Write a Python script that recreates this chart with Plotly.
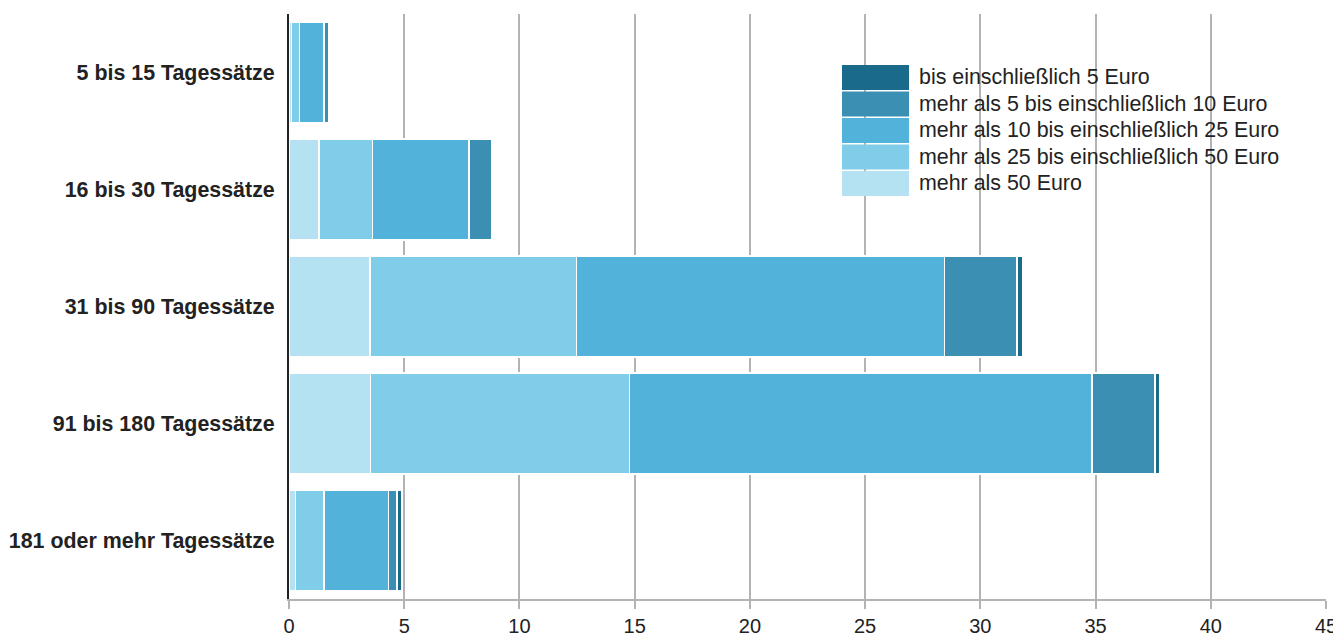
import plotly.graph_objects as go

categories = ["5 bis 15 Tagessätze", "16 bis 30 Tagessätze", "31 bis 90 Tagessätze",
              "91 bis 180 Tagessätze", "181 oder mehr Tagessätze"]

series_names = ["mehr als 50 Euro",
                "mehr als 25 bis einschließlich 50 Euro",
                "mehr als 10 bis einschließlich 25 Euro",
                "mehr als 5 bis einschließlich 10 Euro",
                "bis einschließlich 5 Euro"]

v_over50 = [0.10, 1.30, 3.51, 3.53, 0.28]
v_25_50 = [0.36, 2.32, 8.96, 11.25, 1.24]
v_10_25 = [1.05, 4.19, 15.98, 20.06, 2.80]
v_5_10 = [0.22, 0.99, 3.15, 2.73, 0.36]
v_upto5 = [0.00, 0.00, 0.23, 0.23, 0.23]

series_values = [v_over50, v_25_50, v_10_25, v_5_10, v_upto5]
colors = ["#b4e2f2", "#7fcde8", "#52b2da", "#3b8fb3", "#1a6a8c"]

x_ticks = [0, 5, 10, 15, 20, 25, 30, 35, 40, 45]

FONT = "Liberation Sans, Arial, Helvetica, sans-serif"

fig = go.Figure()
for name, vals, col in zip(series_names, series_values, colors):
    fig.add_trace(go.Bar(
        y=categories, x=vals, name=name, orientation="h",
        marker=dict(color=col, line=dict(color="white", width=1.5)),
        showlegend=False,
    ))

# Manual legend (large swatches), top entry = darkest
leg_order = list(range(len(series_names)))[::-1]
L, T, BOT = 1037.0, 585.0, 599.0
x0 = (842 - 289) / L
x1 = (909 - 289) / L
xt = (917 - 289) / L
top = 65.0
step = 26.5
for i, idx in enumerate(leg_order):
    ytop = top + i * step
    ybot = ytop + step - 1.5
    fig.add_shape(type="rect", xref="paper", yref="paper",
                  x0=x0, x1=x1, y0=(BOT - ybot) / T, y1=(BOT - ytop) / T,
                  fillcolor=colors[idx], line=dict(width=0), layer="above")
    fig.add_annotation(xref="paper", yref="paper", x=xt, y=(BOT - (ytop + ybot) / 2) / T,
                       text=series_names[idx], showarrow=False, xanchor="left",
                       yanchor="middle", font=dict(family=FONT, size=21.4, color="#222"))

fig.update_layout(
    barmode="stack",
    bargap=0.14,
    width=1333, height=628,
    margin=dict(l=281, r=15, t=6, b=37, autoexpand=False),
    plot_bgcolor="white", paper_bgcolor="white",
    font=dict(family=FONT, size=20, color="#222"),
    xaxis=dict(range=[0, 45], tickvals=x_ticks, ticktext=[str(t) for t in x_ticks],
               showgrid=True, gridcolor="#b3b3b3", gridwidth=1.5,
               zeroline=False, showline=True, linecolor="#b3b3b3", linewidth=1.5,
               ticks="outside", ticklen=8, tickcolor="#b3b3b3", tickwidth=1.5,
               automargin=False,
               tickfont=dict(size=20, color="#222")),
    yaxis=dict(autorange="reversed", showgrid=False, zeroline=False,
               showline=True, linecolor="#222", linewidth=2,
               ticks="", ticklabelstandoff=8, automargin=False,
               tickfont=dict(size=21.4, color="#222", weight="bold")),
)

fig.write_html("out.html")
